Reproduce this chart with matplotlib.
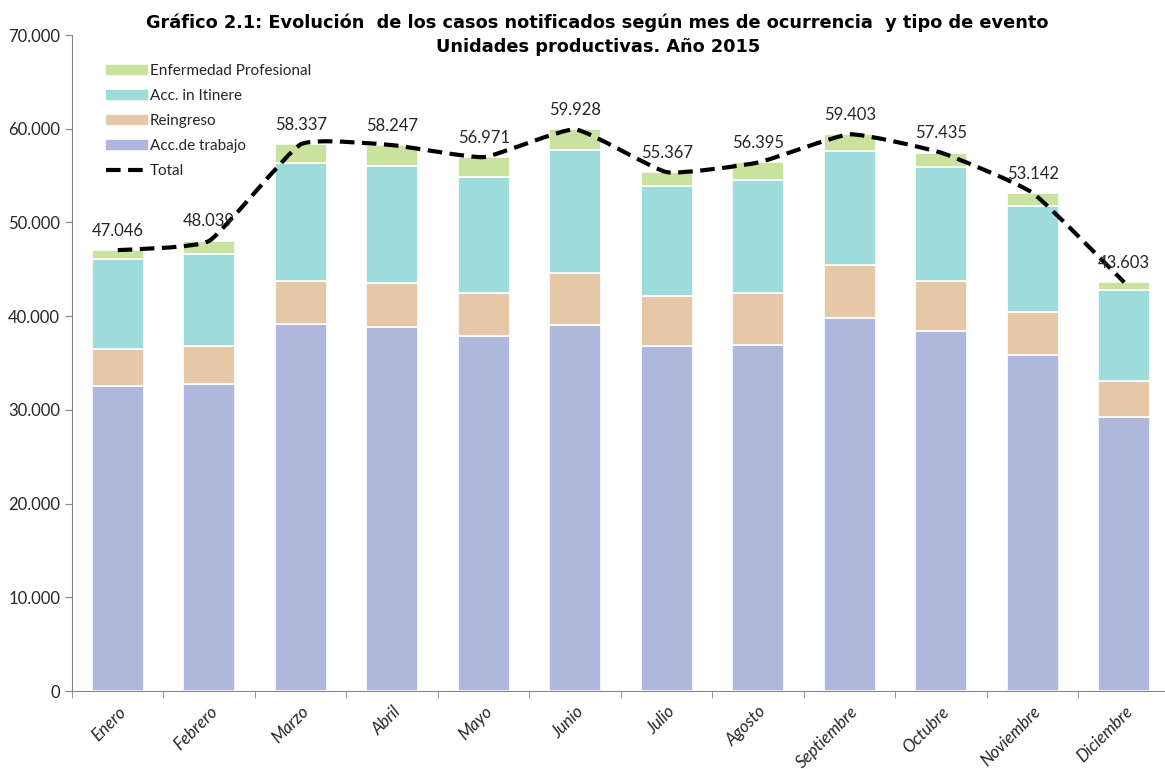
import matplotlib
matplotlib.use("Agg")
import matplotlib.pyplot as plt
from matplotlib.path import Path
from matplotlib.patches import PathPatch
from matplotlib.lines import Line2D
from matplotlib.ticker import FuncFormatter, FixedLocator
import numpy as np

meses = ["Enero", "Febrero", "Marzo", "Abril", "Mayo", "Junio", "Julio",
         "Agosto", "Septiembre", "Octubre", "Noviembre", "Diciembre"]
acc_trabajo = [32500, 32800, 39200, 38800, 37900, 39100, 36800, 36900, 39800, 38400, 35900, 29200]
reingreso = [4000, 4050, 4500, 4700, 4600, 5500, 5400, 5600, 5700, 5400, 4500, 3900]
itinere = [9550, 9750, 12600, 12500, 12300, 13100, 11650, 12000, 12100, 12100, 11400, 9700]
enf_prof = [1000, 1440, 2040, 2250, 2170, 2230, 1520, 1900, 1800, 1540, 1340, 800]
total = [47046, 48039, 58337, 58247, 56971, 59928, 55367, 56395, 59403, 57435, 53142, 43603]

c_trab = "#B0B7DC"
c_rein = "#E5C8A8"
c_itin = "#9DDCDB"
c_ep = "#C9E2A0"

plt.rcParams["font.family"] = ["Lato", "DejaVu Sans"]

fig = plt.figure(figsize=(11.65, 7.69), dpi=100)
ax = fig.add_axes([72 / 1165, 1 - 691 / 769, 1098 / 1165, (691 - 35) / 769])

x = np.arange(len(meses))
w = 0.57
b1 = np.array(acc_trabajo)
b2 = b1 + np.array(reingreso)
b3 = b2 + np.array(itinere)
ax.bar(x, acc_trabajo, w, color=c_trab, edgecolor="white", linewidth=1.2)
ax.bar(x, reingreso, w, bottom=b1, color=c_rein, edgecolor="white", linewidth=1.2)
ax.bar(x, itinere, w, bottom=b2, color=c_itin, edgecolor="white", linewidth=1.2)
ax.bar(x, enf_prof, w, bottom=b3, color=c_ep, edgecolor="white", linewidth=1.2)

# total line, lightly smoothed bezier through the points
k = 1 / 14
pts = np.column_stack([x, total]).astype(float)
verts = [pts[0]]
codes = [Path.MOVETO]
for i in range(len(pts) - 1):
    p0 = pts[i - 1] if i > 0 else pts[i]
    p1 = pts[i]
    p2 = pts[i + 1]
    p3 = pts[i + 2] if i + 2 < len(pts) else pts[i + 1]
    verts += [p1 + (p2 - p0) * k, p2 - (p3 - p1) * k, p2]
    codes += [Path.CURVE4] * 3
dash = (0, (3.5, 1.8))
ax.add_patch(PathPatch(Path(verts, codes), facecolor="none", edgecolor="black",
                       linewidth=3, linestyle=dash, zorder=5))

for i, v in enumerate(total):
    ax.annotate(f"{v:,}".replace(",", "."), (i, v), xytext=(0, 14),
                textcoords="offset points", ha="center", va="center",
                fontsize=12, color="#262626", zorder=6)

ax.set_xlim(-0.5, 11.5)
ax.set_ylim(0, 70000)
ax.set_yticks(range(0, 70001, 10000))
ax.yaxis.set_major_formatter(FuncFormatter(lambda v, p: f"{int(v):,}".replace(",", ".")))
ax.tick_params(axis="y", labelsize=12, labelcolor="#262626", color="#868686", length=5)

ax.set_xticks(x)
ax.set_xticklabels(meses, rotation=45, ha="right", rotation_mode="anchor",
                   fontsize=12.2, style="italic", color="#262626")
ax.tick_params(axis="x", length=0, pad=9)
ax.xaxis.set_minor_locator(FixedLocator(np.arange(-0.5, 12, 1)))
ax.tick_params(axis="x", which="minor", length=5, color="#868686")

for s in ["top", "right"]:
    ax.spines[s].set_visible(False)
for s in ["left", "bottom"]:
    ax.spines[s].set_color("#868686")

fig.text(0.513, 0.970, "Gráfico 2.1: Evolución  de los casos notificados según mes de ocurrencia  y tipo de evento",
         ha="center", va="center", fontsize=12.8, fontweight="bold", family="DejaVu Sans")
fig.text(0.513, 0.939, "Unidades productivas. Año 2015",
         ha="center", va="center", fontsize=12.8, fontweight="bold", family="DejaVu Sans")

handles = [
    plt.Rectangle((0, 0), 1, 1, color=c_ep),
    plt.Rectangle((0, 0), 1, 1, color=c_itin),
    plt.Rectangle((0, 0), 1, 1, color=c_rein),
    plt.Rectangle((0, 0), 1, 1, color=c_trab),
    Line2D([], [], color="black", linewidth=3, linestyle=dash),
]
labels = ["Enfermedad Profesional", "Acc. in Itinere", "Reingreso", "Acc.de trabajo", "Total"]
fig.legend(handles, labels, loc="upper left", bbox_to_anchor=(92 / 1165, 1 - 50 / 769),
           frameon=False, fontsize=11, handlelength=2.7, handleheight=0.6,
           handletextpad=0.2, labelspacing=0.72, labelcolor="#262626")

fig.savefig("out.png", dpi=100)
